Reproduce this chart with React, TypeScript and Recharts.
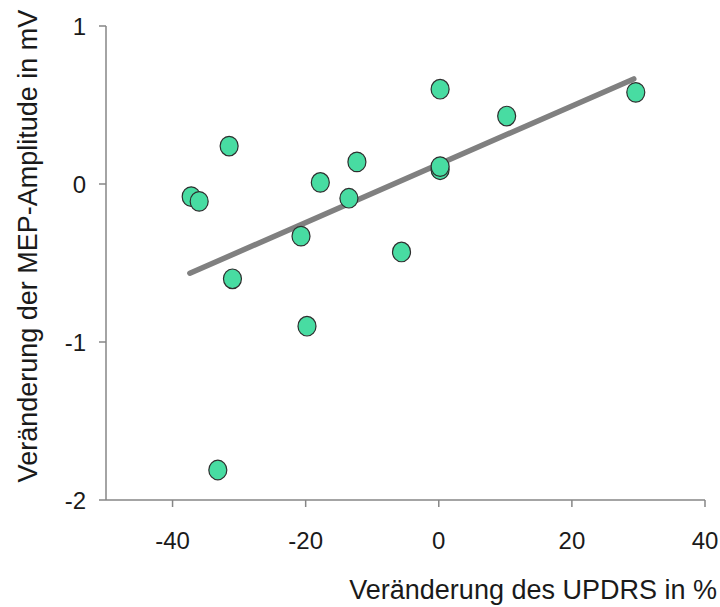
import React from 'react';
import { ScatterChart, Scatter, XAxis, YAxis, ReferenceLine, Label } from 'recharts';

// Veränderung UPDRS (%) vs. Veränderung MEP-Amplitude (mV)
const updrsChange = [-37.2, -36.0, -31.5, -31.0, -33.2, -20.7, -19.8, -17.8, -13.5, -12.3, -5.6, 0.2, 10.2, 0.2, 0.2, 29.6];
const mepChange = [-0.08, -0.11, 0.24, -0.6, -1.81, -0.33, -0.9, 0.01, -0.09, 0.14, -0.43, 0.6, 0.43, 0.09, 0.11, 0.58];

// regression line end points
const trendX = [-37.4, 29.3];
const trendY = [-0.565, 0.665];

const xTicks = [-40, -20, 0, 20, 40];
const yTicks = [-2, -1, 0, 1];

const points = updrsChange.map((x, i) => ({ x, y: mepChange[i] }));

const FONT = '"Liberation Sans", Arial, sans-serif';
const AXIS_COLOR = '#868686';

const Dot = (props: any) => {
    const { cx, cy } = props;
    return <ellipse cx={cx} cy={cy} rx={9} ry={9.8} fill="#48dca2" stroke="#2e2e2e" strokeWidth={1.2} />;
};

const XTitle = (props: any) => {
    const { viewBox } = props;
    return (
        <text x={viewBox.x + viewBox.width + 12} y={viewBox.y + 99} textAnchor="end" fontSize={27} fill="#1a1a1a" fontFamily={FONT}>
            Veränderung des UPDRS in %
        </text>
    );
};

const YTitle = (props: any) => {
    const { viewBox } = props;
    const cy = viewBox.y + viewBox.height / 2 - 17;
    return (
        <text x={28} y={cy} transform={`rotate(-90, 28, ${cy})`} textAnchor="middle" dominantBaseline="central" fontSize={27} fill="#1a1a1a" fontFamily={FONT}>
            Veränderung der MEP-Amplitude in mV
        </text>
    );
};

export default function App() {
    return (
        <div style={{ position: 'absolute', left: 0, top: 0, background: '#fff' }}>
            <ScatterChart width={720} height={607} margin={{ top: 26, right: 15, bottom: 0, left: 0 }}>
                <XAxis
                    type="number"
                    dataKey="x"
                    domain={[-50, 40]}
                    ticks={xTicks}
                    interval={0}
                    height={107}
                    tickSize={7}
                    tickMargin={25}
                    axisLine={{ stroke: AXIS_COLOR, strokeWidth: 1.5 }}
                    tickLine={{ stroke: AXIS_COLOR, strokeWidth: 1.5 }}
                    tick={{ fontSize: 24, fill: '#1a1a1a', fontFamily: FONT }}
                >
                    <Label content={<XTitle />} />
                </XAxis>
                <YAxis
                    type="number"
                    dataKey="y"
                    domain={[-2, 1]}
                    ticks={yTicks}
                    interval={0}
                    width={106}
                    tickSize={7}
                    tickMargin={13}
                    axisLine={{ stroke: AXIS_COLOR, strokeWidth: 1.5 }}
                    tickLine={{ stroke: AXIS_COLOR, strokeWidth: 1.5 }}
                    tick={{ fontSize: 24, fill: '#1a1a1a', fontFamily: FONT }}
                >
                    <Label content={<YTitle />} />
                </YAxis>
                <Scatter data={points} shape={<Dot />} isAnimationActive={false} />
                <ReferenceLine
                    segment={[{ x: trendX[0], y: trendY[0] }, { x: trendX[1], y: trendY[1] }]}
                    stroke="#808080"
                    strokeWidth={5.5}
                    strokeLinecap="round"
                />
            </ScatterChart>
        </div>
    );
}
